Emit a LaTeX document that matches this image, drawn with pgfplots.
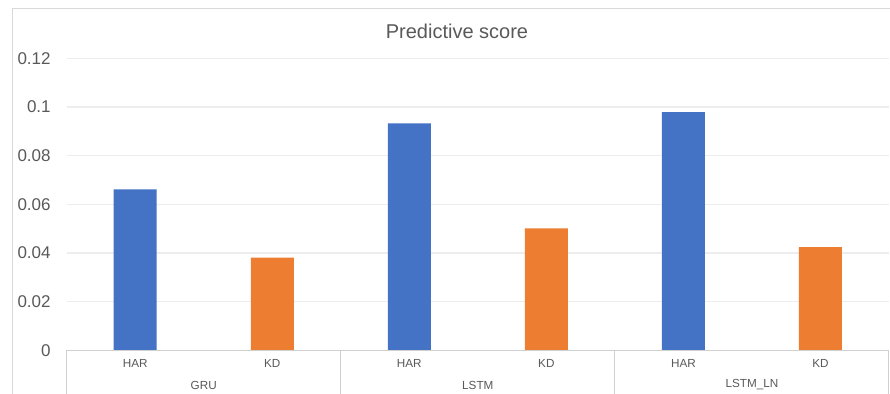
\documentclass[border=0pt]{standalone}
\usepackage{fontspec}
\setmainfont{Liberation Sans}
\usepackage{pgfplots}
\pgfplotsset{compat=1.18}
\definecolor{txtgray}{HTML}{595959}
\definecolor{gridgray}{HTML}{EDEDED}
\definecolor{axgray}{HTML}{D0D0D0}
\definecolor{bordergray}{HTML}{D9D9D9}
\definecolor{barblue}{HTML}{4472C4}
\definecolor{barorange}{HTML}{ED7D31}
\begin{document}
\begin{tikzpicture}
\draw[bordergray, line width=0.5pt] (6pt,0) -- (6pt,192.5pt) -- (450pt,192.5pt);
\node[font=\fontsize{10}{12}\selectfont, text=txtgray] at (228.5pt,181.5pt) {Predictive score};
\begin{axis}[
  at={(33.35pt,21.75pt)}, anchor=south west,
  scale only axis, width=411.15pt, height=146.1pt,
  xmin=-0.5, xmax=5.5, ymin=0, ymax=0.12,
  clip=false,
  axis line style={draw=none},
  major tick length=0pt,
  ytick={0,0.02,0.04,0.06,0.08,0.1,0.12},
  yticklabels={0,0.02,0.04,0.06,0.08,0.1,0.12},
  xtick={0,1,2,3,4,5},
  xticklabels={HAR,KD,HAR,KD,HAR,KD},
  ymajorgrids=true,
  major grid style={gridgray, line width=0.6pt},
  /pgf/number format/assume math mode=true,
  yticklabel style={font=\fontsize{8.5}{10}\selectfont, text=txtgray, anchor=east, xshift=-4.5pt},
  xticklabel style={font=\fontsize{5.85}{7}\selectfont, text=txtgray, anchor=center, yshift=-6.4pt},
]
\addplot[ybar, bar shift=0pt, bar width=0.314, fill=barblue, draw=none] coordinates {(0,0.0662) (2,0.0933) (4,0.0979)};
\addplot[ybar, bar shift=0pt, bar width=0.314, fill=barorange, draw=none] coordinates {(1,0.0381) (3,0.0502) (5,0.0425)};
\draw[axgray, line width=0.5pt] (axis cs:-0.5,0) -- (axis cs:5.5,0);
\draw[axgray, line width=0.5pt] (axis cs:-0.5,0) -- ++(0pt,-22pt);
\draw[axgray, line width=0.5pt] (axis cs:1.5,0) -- ++(0pt,-22pt);
\draw[axgray, line width=0.5pt] (axis cs:3.5,0) -- ++(0pt,-22pt);
\draw[axgray, line width=0.5pt] (axis cs:5.5,0) -- ++(0pt,-22pt);
\node[font=\fontsize{5.85}{7}\selectfont, text=txtgray, yshift=-17.25pt] at (axis cs:0.5,0) {GRU};
\node[font=\fontsize{5.85}{7}\selectfont, text=txtgray, yshift=-17.25pt] at (axis cs:2.5,0) {LSTM};
\node[font=\fontsize{5.85}{7}\selectfont, text=txtgray, yshift=-17.25pt] at (axis cs:4.5,0) {LSTM\_LN};
\end{axis}
\pgfresetboundingbox
\useasboundingbox (0,0) rectangle (445pt,197pt);
\end{tikzpicture}
\end{document}
